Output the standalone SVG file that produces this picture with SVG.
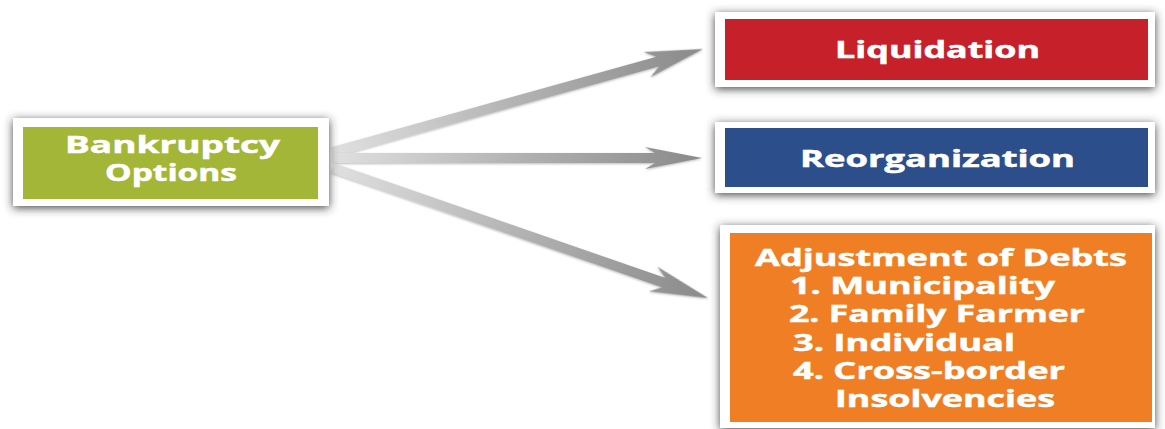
<svg xmlns="http://www.w3.org/2000/svg" width="1165" height="429" viewBox="0 0 1165 429">
<defs>
<filter id="sh" x="-10%" y="-30%" width="120%" height="160%">
<feDropShadow dx="0" dy="2" stdDeviation="5" flood-color="#333333" flood-opacity="0.9"/>
</filter>
<filter id="ash" x="-5%" y="-50%" width="110%" height="200%">
<feDropShadow dx="0" dy="1" stdDeviation="1.2" flood-color="#777" flood-opacity="0.5"/>
</filter>
<linearGradient id="ag" x1="0" y1="0" x2="1" y2="0">
<stop offset="0" stop-color="#e0e0e0"/>
<stop offset="0.5" stop-color="#b2b2b2"/>
<stop offset="1" stop-color="#8a8a8a"/>
</linearGradient>
</defs>
<style>
.frame{fill:#ffffff;filter:url(#sh)}
.lbl{font-family:"Open Sans","Liberation Sans",sans-serif;font-weight:bold;font-size:22.5px;fill:#ffffff;stroke:#ffffff;stroke-width:0.5px}
.arrow{fill:url(#ag);filter:url(#ash)}
</style>
<rect width="1165" height="429" fill="#ffffff"/>
<g id="connectors">
<polygon class="arrow" transform="translate(333,152) rotate(-15.56)" points="0,-5 337,-5 326,-13 384,0 326,13 337,5 0,5"/>
<polygon class="arrow" transform="translate(333,158)" points="0,-5 322,-5 312,-11 369,0 312,11 322,5 0,5"/>
<polygon class="arrow" transform="translate(333,168) rotate(19.12)" points="0,-5 350,-5 339,-13 397,0 339,13 350,5 0,5"/>
</g>
<g id="bankruptcy-options">
<rect class="frame" x="13" y="118" width="316" height="88"/>
<rect x="23" y="127" width="295" height="72" fill="#a4b637"/>
<text class="lbl" x="65" y="153" textLength="215" lengthAdjust="spacingAndGlyphs">Bankruptcy</text>
<text class="lbl" x="105" y="181" textLength="132" lengthAdjust="spacingAndGlyphs">Options</text>
</g>
<g id="liquidation">
<rect class="frame" x="715" y="12" width="440" height="75"/>
<rect x="725" y="19" width="423" height="61" fill="#c6202a"/>
<text class="lbl" x="835" y="58" textLength="205" lengthAdjust="spacingAndGlyphs">Liquidation</text>
</g>
<g id="reorganization">
<rect class="frame" x="715" y="122" width="440" height="71"/>
<rect x="725" y="128" width="423" height="59" fill="#2c4f8b"/>
<text class="lbl" x="800" y="167" textLength="275" lengthAdjust="spacingAndGlyphs">Reorganization</text>
</g>
<g id="adjustment-of-debts">
<rect class="frame" x="720" y="225" width="435" height="203"/>
<rect x="730" y="233" width="422" height="189" fill="#f07e24"/>
<text class="lbl" x="755" y="266" textLength="372" lengthAdjust="spacingAndGlyphs">Adjustment of Debts</text>
<text class="lbl" x="790" y="294" textLength="265" lengthAdjust="spacingAndGlyphs">1. Municipality</text>
<text class="lbl" x="789" y="322" textLength="296" lengthAdjust="spacingAndGlyphs">2. Family Farmer</text>
<text class="lbl" x="793" y="351" textLength="222" lengthAdjust="spacingAndGlyphs">3. Individual</text>
<text class="lbl" x="793" y="379" textLength="272" lengthAdjust="spacingAndGlyphs">4. Cross-border</text>
<text class="lbl" x="835" y="407" textLength="220" lengthAdjust="spacingAndGlyphs">Insolvencies</text>
</g>
</svg>
